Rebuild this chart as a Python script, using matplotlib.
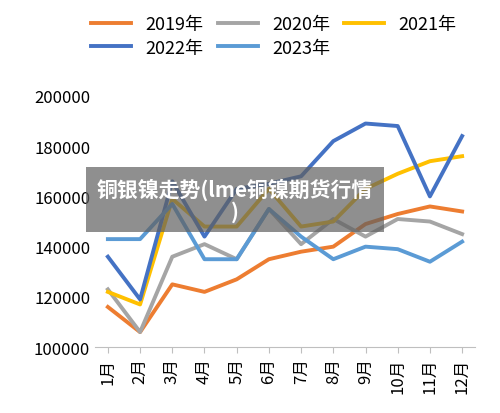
import matplotlib.pyplot as plt

plt.rcParams['font.family'] = ['Noto Sans CJK SC', 'DejaVu Sans']

months = ["1月", "2月", "3月", "4月", "5月", "6月", "7月", "8月", "9月", "10月", "11月", "12月"]
y2019 = [116000, 106000, 125000, 122000, 127000, 135000, 138000, 140000, 149000, 153000, 156000, 154000]
y2020 = [123000, 106000, 136000, 141000, 135000, 155000, 141000, 151000, 144000, 151000, 150000, 145000]
y2021 = [122000, 117000, 159000, 148000, 148000, 163000, 148000, 150000, 163000, 169000, 174000, 176000]
y2022 = [136000, 119000, 166000, 144000, 163000, 165000, 168000, 182000, 189000, 188000, 160000, 184000]
y2023 = [143000, 143000, 157000, 135000, 135000, 155000, 144000, 135000, 140000, 139000, 134000, 142000]

series = [("2019年", y2019, "#ED7D31"), ("2020年", y2020, "#A5A5A5"),
          ("2021年", y2021, "#FFC000"), ("2022年", y2022, "#4472C4"),
          ("2023年", y2023, "#5B9BD5")]

fig = plt.figure(figsize=(5.0, 4.14), dpi=100)
ax = fig.add_axes([0.19, 0.159, 0.76, 0.607])
x = range(len(months))
lines = {}
for name, vals, col in series:
    lines[name], = ax.plot(x, vals, color=col, lw=2.8, label=name)

ax.set_ylim(100000, 200000)
ax.set_yticks(range(100000, 200001, 20000))
ax.set_xlim(-0.4, 11.4)
ax.set_xticks(list(x))
ax.set_xticklabels(months, rotation=90, fontsize=12)
ax.tick_params(axis='y', labelsize=12, length=0)
ax.tick_params(axis='x', length=4, color='#BFBFBF')
for s in ["top", "right", "left"]:
    ax.spines[s].set_visible(False)
ax.spines["bottom"].set_color("#BFBFBF")

# row-wise legend order: 2019 2020 2021 / 2022 2023
order = ["2019年", "2022年", "2020年", "2023年", "2021年"]
fig.legend([lines[k] for k in order], order, loc="upper left",
           bbox_to_anchor=(0.15, 1.0), ncol=3, frameon=False,
           fontsize=13, handlelength=2.2, columnspacing=0.8, labelspacing=0.3)

fig.text(0.47, 0.515, "铜银镍走势(lme铜镍期货行情\n)", ha="center", va="center",
         fontsize=15, color="white", fontweight="bold", linespacing=1.0,
         bbox=dict(boxstyle="square,pad=0.5", fc="#606060", ec="none", alpha=0.7))

fig.savefig("out.png", dpi=100)
